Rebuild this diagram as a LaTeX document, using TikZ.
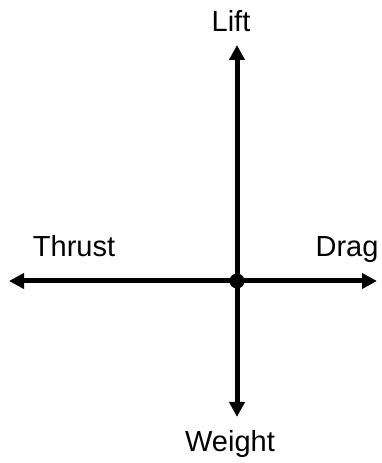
\documentclass[tikz,border=0pt]{standalone}
\usepackage{fontspec}
\setmainfont{Liberation Sans}
\usetikzlibrary{arrows.meta}
\begin{document}
\begin{tikzpicture}[x=1pt,y=1pt,force/.style={line width=5pt,-{Triangle[width=15pt,length=15pt]}},lbl/.style={anchor=base,font=\fontsize{29}{33}\selectfont}]
            \useasboundingbox (0,0) rectangle (381,463);
            \coordinate (o) at (237,182);
            \coordinate (up) at (237,418);
            \coordinate (down) at (237,46);
            \coordinate (left) at (9,182);
            \coordinate (right) at (377,182);
            \draw[force] (o) -- (up);
            \draw[force] (o) -- (down);
            \draw[force] (o) -- (left);
            \draw[force] (o) -- (right);
            \fill (o) circle (7.5pt);
            \node[lbl] (lift) at (231,431) {Lift};
            \node[lbl] (thrust) at (74,206) {Thrust};
            \node[lbl] (drag) at (347,206) {Drag};
            \node[lbl] (weight) at (230,11) {Weight};
        \end{tikzpicture}
\end{document}
